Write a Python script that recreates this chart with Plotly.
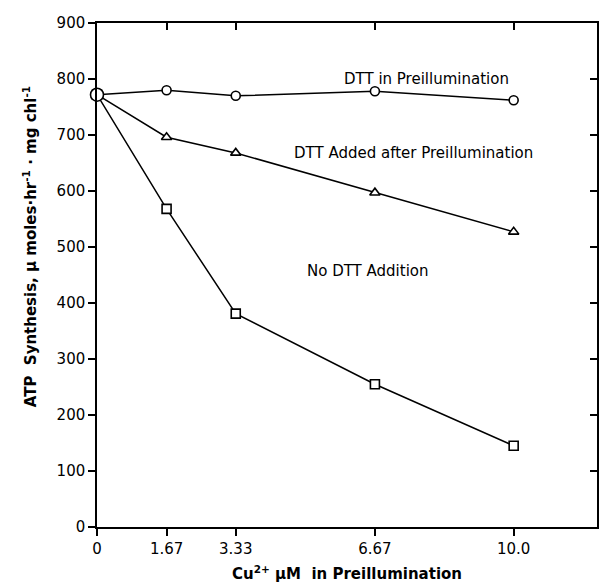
import plotly.graph_objects as go

x_vals = [0, 1.67, 3.33, 6.67, 10.0]
x_ticktext = ["0", "1.67", "3.33", "6.67", "10.0"]
dtt_in_pre = [772, 780, 770, 778, 762]
dtt_after_pre = [772, 696, 668, 597, 527]
no_dtt = [772, 568, 381, 255, 145]
y_ticks = [0, 100, 200, 300, 400, 500, 600, 700, 800, 900]

FONT = "DejaVu Sans"
fig = go.Figure()

def add(y, symbol, sizes):
    fig.add_trace(go.Scatter(
        x=x_vals, y=y, mode="lines+markers", opacity=1,
        line=dict(color="black", width=1.5),
        marker=dict(symbol=symbol, size=sizes, color="#ffffff", opacity=1,
                    line=dict(color="black", width=1.6)),
        cliponaxis=False, showlegend=False))

add(no_dtt, "square", [9, 9, 9, 9, 9])
add(dtt_after_pre, "triangle-up", [9, 9, 9, 9, 9])
add(dtt_in_pre, "circle", [13, 9, 9, 9, 9])

axis_common = dict(showline=True, linecolor="black", linewidth=1.5,
                   showgrid=False, zeroline=False, ticklen=7,
                   tickcolor="black", tickwidth=1.5)

fig.update_layout(
    width=600, height=583,
    margin=dict(l=97, r=3, t=23, b=56),
    paper_bgcolor="white", plot_bgcolor="white",
    font=dict(family=FONT, color="black", size=15),
    xaxis=dict(range=[0, 12], tickvals=x_vals, ticktext=x_ticktext,
               ticks="outside", tickfont=dict(size=15), **axis_common),
    yaxis=dict(range=[0, 900], tickvals=y_ticks, ticks="outside",
               tickfont=dict(size=15), **axis_common),
    xaxis2=dict(range=[0, 12], tickvals=x_vals, ticks="inside",
                showticklabels=False, overlaying="x", side="top",
                **axis_common),
    yaxis2=dict(range=[0, 900], tickvals=y_ticks, ticks="inside",
                showticklabels=False, overlaying="y", side="right",
                **axis_common),
)
fig.add_trace(go.Scatter(x=[None], y=[None], xaxis="x2", yaxis="y2",
                         showlegend=False, hoverinfo="skip"))

fig.add_annotation(x=7.9, y=800, xref="x", yref="y", text="DTT in Preillumination",
                   showarrow=False, font=dict(size=15, family=FONT))
fig.add_annotation(x=7.6, y=667, xref="x", yref="y", text="DTT Added after Preillumination",
                   showarrow=False, font=dict(size=15, family=FONT))
fig.add_annotation(x=6.5, y=457, xref="x", yref="y", text="No DTT Addition",
                   showarrow=False, font=dict(size=15, family=FONT))

fig.add_annotation(x=0.5, y=-0.092, xref="paper", yref="paper",
                   xanchor="center", yanchor="middle",
                   text="<b>Cu<sup>2+</sup> μM  in Preillumination</b>",
                   showarrow=False, font=dict(size=15, family=FONT))
fig.add_annotation(x=-0.134, y=0.555, xref="paper", yref="paper", textangle=-90,
                   xanchor="center", yanchor="middle",
                   text="<b>ATP  Synthesis, μ moles·hr<sup>-1</sup> · mg chl<sup>-1</sup></b>",
                   showarrow=False, font=dict(size=15, family=FONT))

fig.write_html("out.html")
